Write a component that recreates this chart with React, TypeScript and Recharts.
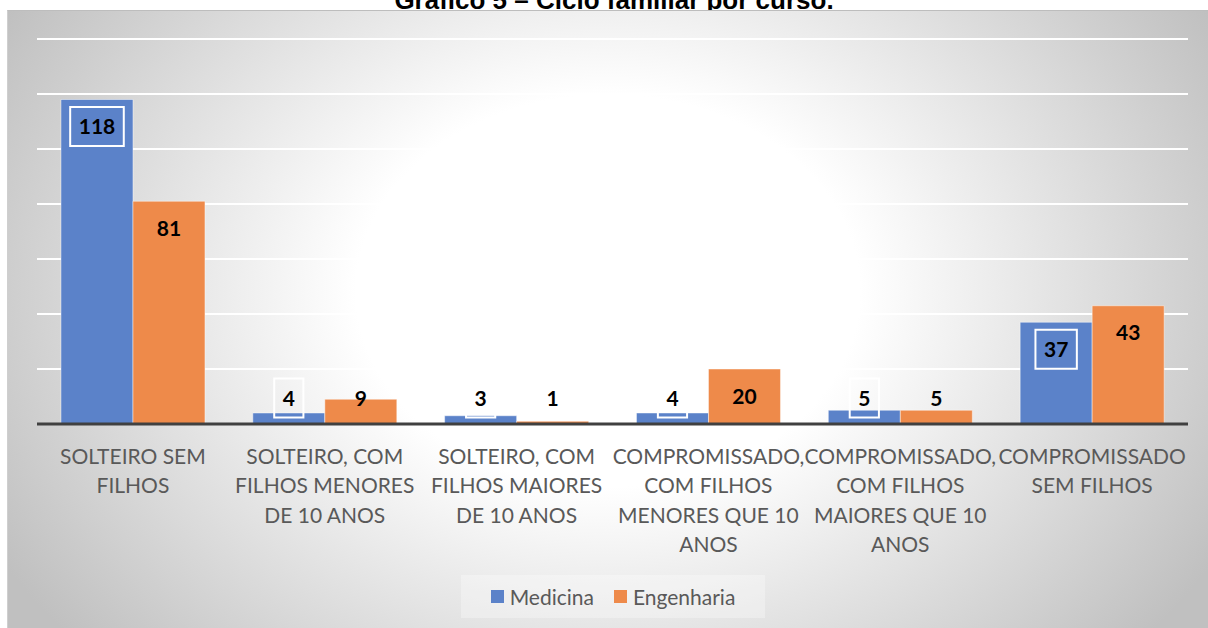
import React from 'react';
import { BarChart, Bar, XAxis, YAxis, CartesianGrid } from 'recharts';

const categories = [
  'SOLTEIRO SEM FILHOS',
  'SOLTEIRO, COM FILHOS MENORES DE 10 ANOS',
  'SOLTEIRO, COM FILHOS MAIORES DE 10 ANOS',
  'COMPROMISSADO, COM FILHOS MENORES QUE 10 ANOS',
  'COMPROMISSADO, COM FILHOS MAIORES QUE 10 ANOS',
  'COMPROMISSADO SEM FILHOS',
];
const medicina = [118, 4, 3, 4, 5, 37];
const engenharia = [81, 9, 1, 20, 5, 43];
const yTicks = [0, 20, 40, 60, 80, 100, 120, 140];
const seriesNames = ['Medicina', 'Engenharia'];
const title = 'Gráfico 5 – Ciclo familiar por curso.';

const data = categories.map((c, i) => ({ cat: c, med: medicina[i], eng: engenharia[i] }));

const BLUE = '#5b82c9';
const ORANGE = '#ee8a4a';
const FONT = 'Lato, "Noto Sans", sans-serif';

function wrap(text: string, maxChars: number): string[] {
  const words = text.split(' ');
  const lines: string[] = [];
  let cur = '';
  for (const w of words) {
    const cand = cur ? cur + ' ' + w : w;
    if (cand.length > maxChars && cur) {
      lines.push(cur);
      cur = w;
    } else cur = cand;
  }
  if (cur) lines.push(cur);
  return lines;
}

const CatTick = (props: any) => {
  const { x, y, payload } = props;
  const lines = wrap(String(payload.value), 14);
  return (
    <g>
      {lines.map((l, i) => (
        <text key={i} x={x} y={y + 39.5 + i * 29.6} textAnchor="middle" fill="#595959" fontFamily={FONT} fontSize={21}>
          {l}
        </text>
      ))}
    </g>
  );
};

const makeLabel = (boxed: boolean) => (props: any) => {
  const { x, y, width, height, value } = props;
  const base = y + height;
  const cy = Math.min(y + 27, base - 26);
  const cx = x + width / 2;
  const s = String(value);
  const bw = s.length * 12.2 + 17;
  return (
    <g>
      {boxed && (
        <rect x={cx - bw / 2} y={cy - 19.5} width={bw} height={39} fill="none" stroke="#ffffff" strokeWidth={2} />
      )}
      <text x={cx} y={cy + 7.5} textAnchor="middle" fill="#000" fontFamily={FONT} fontWeight={700} fontSize={21}>
        {s}
      </text>
    </g>
  );
};

export default function App() {
  return (
    <div style={{ position: 'absolute', left: 0, top: 0, width: 1208, height: 628, background: '#fff', overflow: 'hidden' }}>
      <svg style={{ position: 'absolute', left: 0, top: 0 }} width={1208} height={30}>
        <text x={614} y={8.5} textAnchor="middle" fontFamily='"Liberation Sans", Arial, sans-serif' fontWeight={700} fontSize={26} fill="#000">
          {title}
        </text>
      </svg>
      <div
        style={{
          position: 'absolute',
          left: 7,
          top: 10,
          width: 1201,
          height: 618,
          boxSizing: 'border-box',
          borderTop: '1px solid #bdbdbd',
          borderLeft: '1px solid #cfcfcf',
          background: 'radial-gradient(ellipse 720px 560px at 600px 280px, #ffffff 35%, #c0c0c0 97%)',
        }}
      />
      <div style={{ position: 'absolute', left: 0, top: 0 }}>
        <BarChart width={1208} height={628} data={data} margin={{ top: 39, right: 20, bottom: 0, left: 37 }} barCategoryGap="12.5%" barGap={0}>
          <CartesianGrid vertical={false} stroke="#ffffff" strokeWidth={2} />
          <YAxis hide domain={[0, 140]} ticks={yTicks} />
          <XAxis
            dataKey="cat"
            height={204}
            tickSize={0}
            tickMargin={0}
            tickLine={false}
            axisLine={{ stroke: '#404040', strokeWidth: 3 }}
            tick={<CatTick />}
            interval={0}
          />
          <Bar dataKey="med" name={seriesNames[0]} fill={BLUE} stroke="rgba(255,255,255,0.45)" strokeWidth={1} isAnimationActive={false} label={makeLabel(true)} />
          <Bar dataKey="eng" name={seriesNames[1]} fill={ORANGE} stroke="rgba(255,255,255,0.45)" strokeWidth={1} isAnimationActive={false} label={makeLabel(false)} />
        </BarChart>
      </div>
      <div
        style={{
          position: 'absolute',
          left: 461,
          top: 575,
          width: 304,
          height: 43,
          background: 'rgba(255,255,255,0.3)',
          display: 'flex',
          alignItems: 'center',
          justifyContent: 'center',
          fontFamily: FONT,
          fontSize: 21,
          color: '#595959',
        }}
      >
        {seriesNames.map((n, i) => (
          <div key={n} style={{ display: 'flex', alignItems: 'center', marginLeft: i === 0 ? 0 : 20 }}>
            <div style={{ width: 13, height: 13, background: i === 0 ? BLUE : ORANGE, marginRight: 6 }} />
            <span>{n}</span>
          </div>
        ))}
      </div>
    </div>
  );
}
